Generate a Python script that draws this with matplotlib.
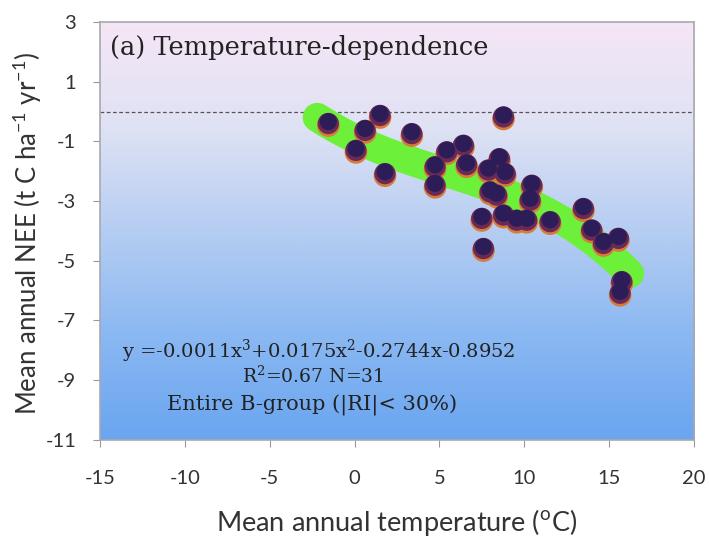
import numpy as np
import matplotlib.pyplot as plt
from matplotlib.colors import LinearSegmentedColormap
from matplotlib.transforms import offset_copy

# site data
temp = [-1.55, 1.5, 0.62, 0.08, 1.79, 3.37, 8.77, 5.43, 6.41, 4.74, 4.74,
        6.6, 8.53, 7.88, 8.87, 7.98, 8.37, 10.44, 10.34, 7.49, 8.77, 9.55,
        10.14, 11.52, 7.59, 13.48, 13.97, 14.66, 15.54, 15.74, 15.64]
nee = [-0.44, -0.17, -0.67, -1.34, -2.12, -0.78, -0.22, -1.39, -1.17, -1.89, -2.51,
       -1.82, -1.62, -2.0, -2.12, -2.73, -2.84, -2.51, -3.01, -3.62, -3.51, -3.68,
       -3.68, -3.73, -4.63, -3.29, -4.01, -4.46, -4.29, -5.74, -6.13]

# cubic fit coefficients (from the equation in the chart)
coef = [-0.0011, 0.0175, -0.2744, -0.8952]
fit_range = [-2.2, 16.2]

xticks = [-15, -10, -5, 0, 5, 10, 15, 20]
yticks = [3, 1, -1, -3, -5, -7, -9, -11]

plt.rcParams['font.family'] = ['Lato', 'DejaVu Sans']
plt.rcParams['axes.unicode_minus'] = False

fig = plt.figure(figsize=(7.09, 5.39), dpi=100)
ax = fig.add_axes([0.141, 0.184, 0.838, 0.775])
ax.set_xlim(-15, 20)
ax.set_ylim(-11, 3)

# gradient background (pink at top, blue at bottom)
cmap = LinearSegmentedColormap.from_list(
    "bg", ["#f6e6f6", "#dfe2f4", "#b5cdf2", "#8ab8f2", "#6aa5f0"])
grad = np.linspace(0, 1, 256).reshape(-1, 1)
ax.imshow(grad, cmap=cmap, aspect="auto", extent=[-15, 20, -11, 3],
          zorder=0, interpolation="bicubic")

ax.axhline(0, color="#555555", ls=(0, (3, 2)), lw=0.9, zorder=1)

# green band along fit
xf = np.linspace(fit_range[0], fit_range[1], 200)
yf = np.polyval(coef, xf)
ax.plot(xf, yf, color="#6cf03a", lw=21, solid_capstyle="round", zorder=2)

# sphere-like markers
t0 = offset_copy(ax.transData, fig=fig, x=0, y=-0.6, units="points")
ax.scatter(temp, nee, s=265, color="#d87a38", edgecolors="none", zorder=3,
           transform=t0)
t1 = offset_copy(ax.transData, fig=fig, x=0, y=0.9, units="points")
ax.scatter(temp, nee, s=235, color="#6a2a55", edgecolors="none", zorder=4,
           transform=t1)
t2 = offset_copy(ax.transData, fig=fig, x=0, y=2.2, units="points")
ax.scatter(temp, nee, s=150, color="#2c1c58", edgecolors="none", zorder=5,
           transform=t2)

ax.set_xticks(xticks)
ax.set_yticks(yticks)
ax.tick_params(axis="both", labelsize=14.5, colors="#999999", labelcolor="#333333",
               length=5, direction="out")
ax.tick_params(axis="x", pad=17)
ax.tick_params(axis="y", pad=12)
for side in ["left", "bottom", "right", "top"]:
    ax.spines[side].set_color("#a8a8b0")
    ax.spines[side].set_linewidth(1.2)

ax.set_xlabel(r"Mean annual temperature ($^{\mathdefault{o}}$C)", fontsize=19.5,
              color="#333333", labelpad=14)
ax.set_ylabel(r"Mean annual NEE (t C ha$^{\mathdefault{-1}}$ yr$^{\mathdefault{-1}}$)",
              fontsize=18.5, color="#333333")
ax.yaxis.set_label_coords(-0.095, 0.495)

ax.text(-14.4, 2.16, "(a) Temperature-dependence", family="DejaVu Serif",
        fontsize=18.5, color="#222222", va="center", ha="left", zorder=6)

ax.text(-2.1, -8.04,
        r"y =-0.0011x$^{\mathdefault{3}}$+0.0175x$^{\mathdefault{2}}$-0.2744x-0.8952",
        family="DejaVu Serif", fontsize=14, color="#222222",
        ha="center", va="center", zorder=6)
ax.text(-2.45, -8.85, r"R$^{\mathdefault{2}}$=0.67 N=31", family="DejaVu Serif",
        fontsize=13.5, color="#222222", ha="center", va="center", zorder=6)
ax.text(-2.48, -9.85, "Entire B-group (|RI|< 30%)", family="DejaVu Serif",
        fontsize=15, color="#222222", ha="center", va="center", zorder=6)

fig.savefig("out.png", dpi=100)
